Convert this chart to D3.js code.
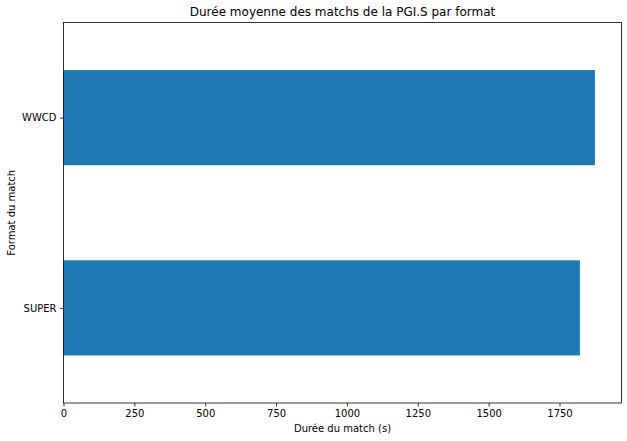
<!DOCTYPE html>
<html>
<head>
<meta charset="utf-8">
<script src="https://cdn.jsdelivr.net/npm/d3@7"></script>
<style>
  body { margin: 0; background: #fff; }
  text { font-family: "DejaVu Sans", sans-serif; fill: #000; }
</style>
</head>
<body>
<svg id="chart" width="627" height="441"></svg>
<script>
// données
const formats = ['SUPER', 'WWCD'];
const durees = [1822, 1875];
const xTicks = [0, 250, 500, 750, 1000, 1250, 1500, 1750];

const W = 627, H = 441;
const margin = { top: 22.5, right: 5.5, bottom: 38, left: 63.5 };
const iw = W - margin.left - margin.right;
const ih = H - margin.top - margin.bottom;

const svg = d3.select('#chart');
const g = svg.append('g').attr('transform', `translate(${margin.left},${margin.top})`);

// comme matplotlib : marge de 5% à droite
const x = d3.scaleLinear().domain([0, d3.max(durees) * 1.05]).range([0, iw]);
// positions 0..n-1, bas vers haut, de -0.5 à n-0.5
const y = d3.scaleLinear().domain([-0.5, formats.length - 0.5]).range([ih, 0]);
const barH = 0.5;

g.selectAll('rect.bar')
  .data(durees)
  .enter().append('rect')
  .attr('class', 'bar')
  .attr('x', x(0))
  .attr('y', (d, i) => y(i + barH / 2))
  .attr('width', d => x(d) - x(0))
  .attr('height', (d, i) => y(i - barH / 2) - y(i + barH / 2))
  .attr('fill', '#1f77b4');

// axes
const xAxis = d3.axisBottom(x).tickValues(xTicks).tickSize(3.5).tickPadding(3.5).tickFormat(d3.format('d'));
const gx = g.append('g').attr('transform', `translate(0,${ih})`).call(xAxis);
const yAxis = d3.axisLeft(y).tickValues(formats.map((f, i) => i)).tickFormat(i => formats[i]).tickSize(3.5).tickPadding(3.5);
const gy = g.append('g').call(yAxis);

[gx, gy].forEach(a => {
  a.select('.domain').remove();
  a.selectAll('line').attr('stroke', '#000').attr('stroke-width', 0.8);
  a.selectAll('text').style('font-size', '10px').style('font-family', '"DejaVu Sans", sans-serif');
});

// cadre
g.append('rect')
  .attr('width', iw).attr('height', ih)
  .attr('fill', 'none').attr('stroke', '#000').attr('stroke-width', 0.8);

// titres
svg.append('text')
  .attr('x', margin.left + iw / 2).attr('y', 16)
  .attr('text-anchor', 'middle').style('font-size', '12px')
  .text('Durée moyenne des matchs de la PGI.S par format');

svg.append('text')
  .attr('x', margin.left + iw / 2).attr('y', 432)
  .attr('text-anchor', 'middle').style('font-size', '10px')
  .text('Durée du match (s)');

svg.append('text')
  .attr('transform', `translate(15,${margin.top + ih / 2}) rotate(-90)`)
  .attr('text-anchor', 'middle').style('font-size', '10px')
  .text('Format du match');
</script>
</body>
</html>
